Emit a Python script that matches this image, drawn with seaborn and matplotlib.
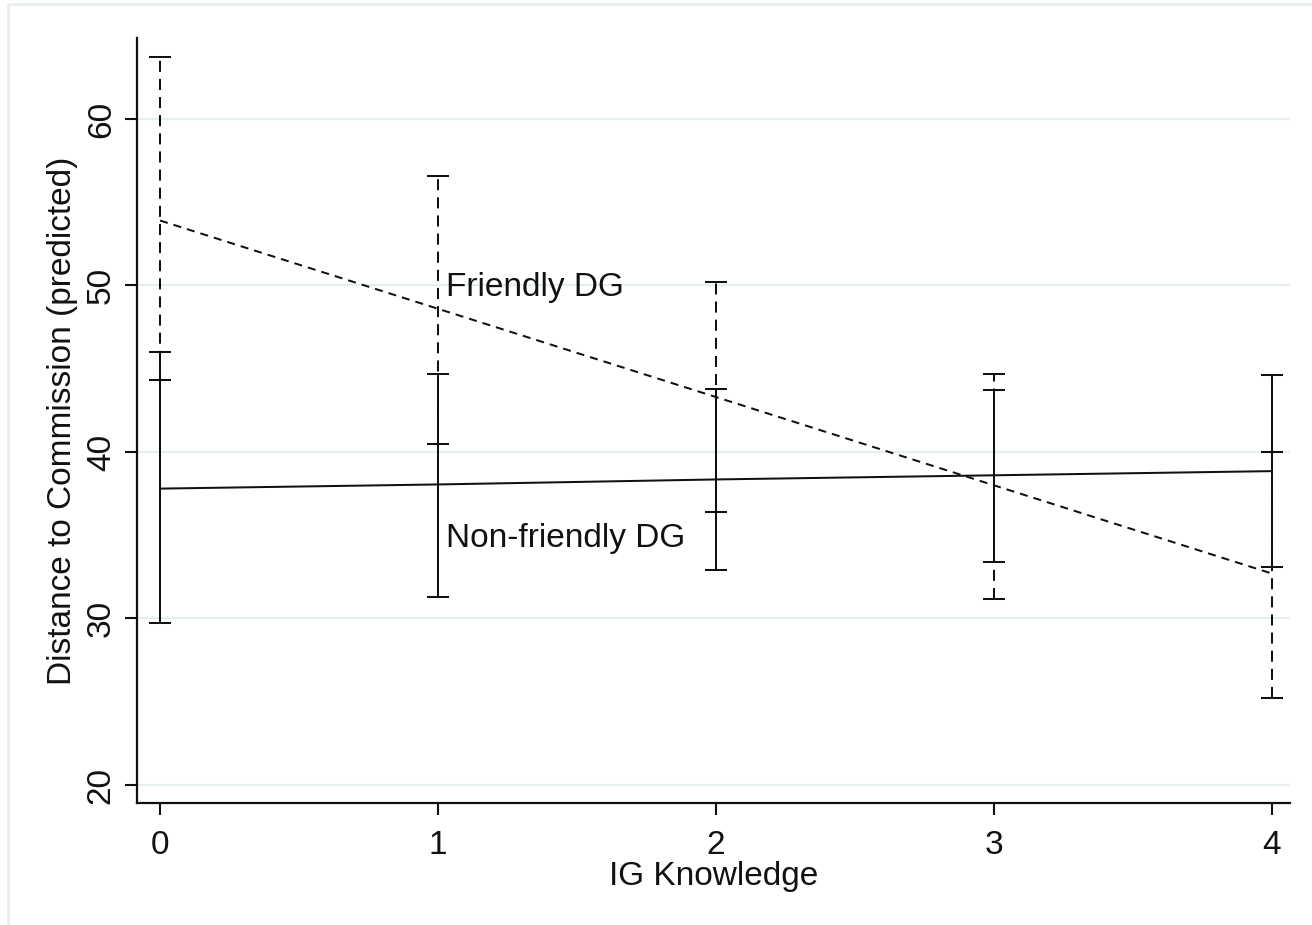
import numpy as np
import pandas as pd
import seaborn as sns
import matplotlib.pyplot as plt
from matplotlib.lines import Line2D

# values
knowledge = [0, 1, 2, 3, 4]
friendly_mean = [53.9, 48.6, 43.3, 38.0, 32.7]
friendly_lo = [44.3, 40.5, 36.4, 31.2, 25.2]
friendly_hi = [63.7, 56.6, 50.2, 44.7, 40.0]
nonfriendly_mean = [37.8, 38.05, 38.35, 38.6, 38.85]
nonfriendly_lo = [29.7, 31.3, 32.9, 33.4, 33.1]
nonfriendly_hi = [46.0, 44.7, 43.8, 43.7, 44.6]
yticks = [20, 30, 40, 50, 60]
xticks = [0, 1, 2, 3, 4]

sns.set_style('white')
plt.rcParams['font.family'] = ['Liberation Sans', 'DejaVu Sans']

df = pd.DataFrame({
    'IG Knowledge': knowledge * 2,
    'pred': friendly_mean + nonfriendly_mean,
    'group': ['Friendly DG'] * 5 + ['Non-friendly DG'] * 5,
})

ink = '#111111'
grid_col = '#e6eff0'
lw = 1.45
fs = 24

fig = plt.figure(figsize=(13.12, 9.25), dpi=100)
ax = fig.add_axes([0.1044, 0.1319, 0.8788, 0.827])

# faint outer frame like the Stata graph region
fig.add_artist(Line2D([8 / 1312, 8 / 1312], [0, 1 - 4 / 925], transform=fig.transFigure,
                      color=grid_col, lw=2))
fig.add_artist(Line2D([8 / 1312, 1], [1 - 4 / 925, 1 - 4 / 925], transform=fig.transFigure,
                      color=grid_col, lw=2))

for y in yticks:
    ax.axhline(y, color=grid_col, lw=1.6, zorder=0)

# friendly: dashed
eb = ax.errorbar(knowledge, friendly_mean,
                 yerr=[np.subtract(friendly_mean, friendly_lo), np.subtract(friendly_hi, friendly_mean)],
                 fmt='none', ecolor=ink, elinewidth=lw, capsize=8, capthick=lw, zorder=2)
eb[2][0].set_linestyle((0, (5.5, 3.5)))

sns.lineplot(data=df, x='IG Knowledge', y='pred', style='group',
             dashes={'Friendly DG': (4, 3), 'Non-friendly DG': ''},
             color=ink, lw=lw, legend=False, ax=ax, zorder=3)

# non-friendly: solid, drawn on top
ax.errorbar(knowledge, nonfriendly_mean,
            yerr=[np.subtract(nonfriendly_mean, nonfriendly_lo), np.subtract(nonfriendly_hi, nonfriendly_mean)],
            fmt='none', ecolor=ink, elinewidth=lw, capsize=8, capthick=lw, zorder=4)

ax.text(1.03, 49.85, 'Friendly DG', fontsize=fs, color=ink, va='center', ha='left')
ax.text(1.03, 34.8, 'Non-friendly DG', fontsize=fs, color=ink, va='center', ha='left')

ax.set_xlim(-0.083, 4.065)
ax.set_ylim(18.92, 64.86)
ax.set_xticks(xticks)
ax.set_yticks(yticks)
ax.set_xticklabels([str(v) for v in xticks])
ax.set_yticklabels([str(v) for v in yticks], rotation=90, va='center')
ax.tick_params(axis='both', bottom=True, left=True, direction='out', labelsize=fs,
               colors=ink, length=8.5, width=1.5)
ax.tick_params(axis='x', pad=11)
ax.tick_params(axis='y', pad=6)

ax.set_xlabel('IG Knowledge', fontsize=fs, color=ink, labelpad=0)
ax.set_ylabel('Distance to Commission (predicted)', fontsize=fs, color=ink, labelpad=6)

for side in ['top', 'right']:
    ax.spines[side].set_visible(False)
for side in ['left', 'bottom']:
    ax.spines[side].set_color(ink)
    ax.spines[side].set_linewidth(1.6)

fig.savefig('out.png', dpi=100, facecolor='white')
